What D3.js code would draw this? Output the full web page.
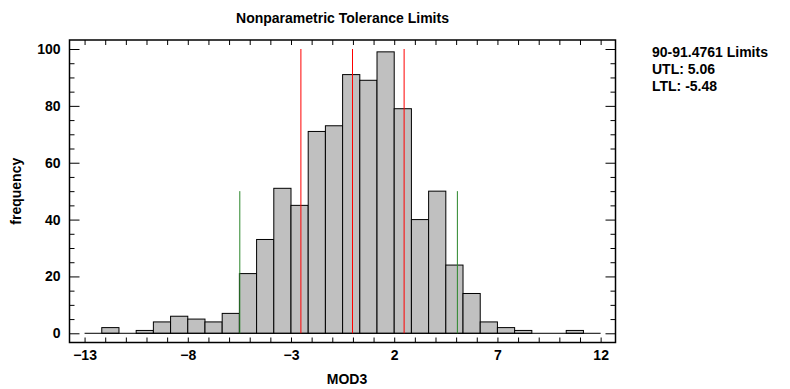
<!DOCTYPE html>
<html>
<head>
<meta charset="utf-8">
<script src="https://cdn.jsdelivr.net/npm/d3@7"></script>
<style>
  html, body { margin: 0; padding: 0; background: #fff; }
  svg { display: block; }
  text { font-family: "Liberation Sans", Arial, sans-serif; font-weight: bold; fill: #000; }
</style>
</head>
<body>
<svg id="chart" width="790" height="389"></svg>
<script>
// ---- data ----
const binLower = [-13, -12.1667, -11.3333, -10.5, -9.6667, -8.8333, -8, -7.1667, -6.3333, -5.5,
                  -4.6667, -3.8333, -3, -2.1667, -1.3333, -0.5, 0.3333, 1.1667, 2, 2.8333,
                  3.6667, 4.5, 5.3333, 6.1667, 7, 7.8333, 8.6667, 9.5, 10.3333, 11.1667];
const binUpper = [-12.1667, -11.3333, -10.5, -9.6667, -8.8333, -8, -7.1667, -6.3333, -5.5, -4.6667,
                  -3.8333, -3, -2.1667, -1.3333, -0.5, 0.3333, 1.1667, 2, 2.8333, 3.6667,
                  4.5, 5.3333, 6.1667, 7, 7.8333, 8.6667, 9.5, 10.3333, 11.1667, 12];
const counts = [0, 2, 0, 1, 4, 6, 5, 4, 7, 21,
                33, 51, 45, 71, 73, 91, 89, 99, 79, 40,
                50, 24, 14, 4, 2, 1, 0, 0, 1, 0];
const redLines = [-2.52, -0.02, 2.48];
const redHeight = 100;
const greenLines = [-5.48, 5.06];
const greenHeight = 50;
const xTickValues = [-13, -8, -3, 2, 7, 12];
const yTickValues = [0, 20, 40, 60, 80, 100];
const title = "Nonparametric Tolerance Limits";
const xLabel = "MOD3";
const yLabel = "frequency";
const legendLines = ["90-91.4761 Limits", "UTL: 5.06", "LTL: -5.48"];

// ---- layout ----
const svg = d3.select("#chart");
const L = 69.5, R = 615.5, T = 40, B = 342.5;
const x = d3.scaleLinear().domain([-13.73, 12.72]).range([L, R]);
const y = d3.scaleLinear().domain([-3.24, 103.17]).range([B, T]);
const fs = 14;

// bars
svg.append("g").selectAll("rect")
  .data(counts.map((c, i) => ({ lo: binLower[i], hi: binUpper[i], c })).filter(d => d.c > 0))
  .join("rect")
  .attr("x", d => x(d.lo))
  .attr("y", d => y(d.c))
  .attr("width", d => x(d.hi) - x(d.lo))
  .attr("height", d => y(0) - y(d.c))
  .attr("fill", "#c0c0c0")
  .attr("stroke", "#000")
  .attr("stroke-width", 1);

// baseline
svg.append("line")
  .attr("x1", x(binLower[0])).attr("x2", x(binUpper[binUpper.length - 1]))
  .attr("y1", y(0)).attr("y2", y(0))
  .attr("stroke", "#000").attr("stroke-width", 1);

// limit lines
svg.append("g").selectAll("line")
  .data(redLines).join("line")
  .attr("x1", d => x(d)).attr("x2", d => x(d))
  .attr("y1", y(0)).attr("y2", y(redHeight))
  .attr("stroke", "#ff0000").attr("stroke-width", 1);
svg.append("g").selectAll("line")
  .data(greenLines).join("line")
  .attr("x1", d => x(d)).attr("x2", d => x(d))
  .attr("y1", y(0)).attr("y2", y(greenHeight))
  .attr("stroke", "#2a862a").attr("stroke-width", 1);

// axes (ticks inward)
const xMinor = d3.range(-13, 12.5, 1);
const yMinor = d3.range(0, 101, 5);
const axisStyle = g => {
  g.select(".domain").remove();
  g.selectAll(".tick line").attr("stroke", "#000").attr("stroke-width", 1);
  g.selectAll("text").style("font-size", fs + "px");
};

// bottom
svg.append("g").attr("transform", `translate(0,${B})`)
  .call(d3.axisBottom(x).tickValues(xMinor).tickSize(-5).tickFormat(""))
  .call(axisStyle);
svg.append("g").attr("transform", `translate(0,${B})`)
  .call(d3.axisBottom(x).tickValues(xTickValues).tickSize(0).tickPadding(8).tickFormat(d3.format("d")))
  .call(axisStyle);
// top
svg.append("g").attr("transform", `translate(0,${T})`)
  .call(d3.axisTop(x).tickValues(xMinor).tickSize(-5).tickFormat(""))
  .call(axisStyle);
// left
svg.append("g").attr("transform", `translate(${L},0)`)
  .call(d3.axisLeft(y).tickValues(yMinor.filter(v => v % 20 !== 0)).tickSize(-5).tickFormat(""))
  .call(axisStyle);
svg.append("g").attr("transform", `translate(${L},0)`)
  .call(d3.axisLeft(y).tickValues(yTickValues).tickSize(-10).tickFormat(d3.format("d")))
  .call(axisStyle)
  .call(g => g.selectAll("text").attr("x", -9));
// right
svg.append("g").attr("transform", `translate(${R},0)`)
  .call(d3.axisRight(y).tickValues(yMinor.filter(v => v % 20 !== 0)).tickSize(-5).tickFormat(""))
  .call(axisStyle);
svg.append("g").attr("transform", `translate(${R},0)`)
  .call(d3.axisRight(y).tickValues(yTickValues).tickSize(-10).tickFormat(""))
  .call(axisStyle);

// frame
svg.append("rect")
  .attr("x", L).attr("y", T).attr("width", R - L).attr("height", B - T)
  .attr("fill", "none").attr("stroke", "#000").attr("stroke-width", 1.5);

// titles
svg.append("text").attr("x", (L + R) / 2).attr("y", 23)
  .attr("text-anchor", "middle").style("font-size", fs + "px").text(title);
svg.append("text").attr("x", 347).attr("y", 384)
  .attr("text-anchor", "middle").style("font-size", fs + "px").text(xLabel);
svg.append("text")
  .attr("transform", `translate(21,${(T + B) / 2}) rotate(-90)`)
  .attr("text-anchor", "middle").style("font-size", fs + "px").text(yLabel);

// legend
svg.append("g").selectAll("text")
  .data(legendLines).join("text")
  .attr("x", 652).attr("y", (d, i) => 57 + i * 17)
  .style("font-size", fs + "px").text(d => d);
</script>
</body>
</html>
